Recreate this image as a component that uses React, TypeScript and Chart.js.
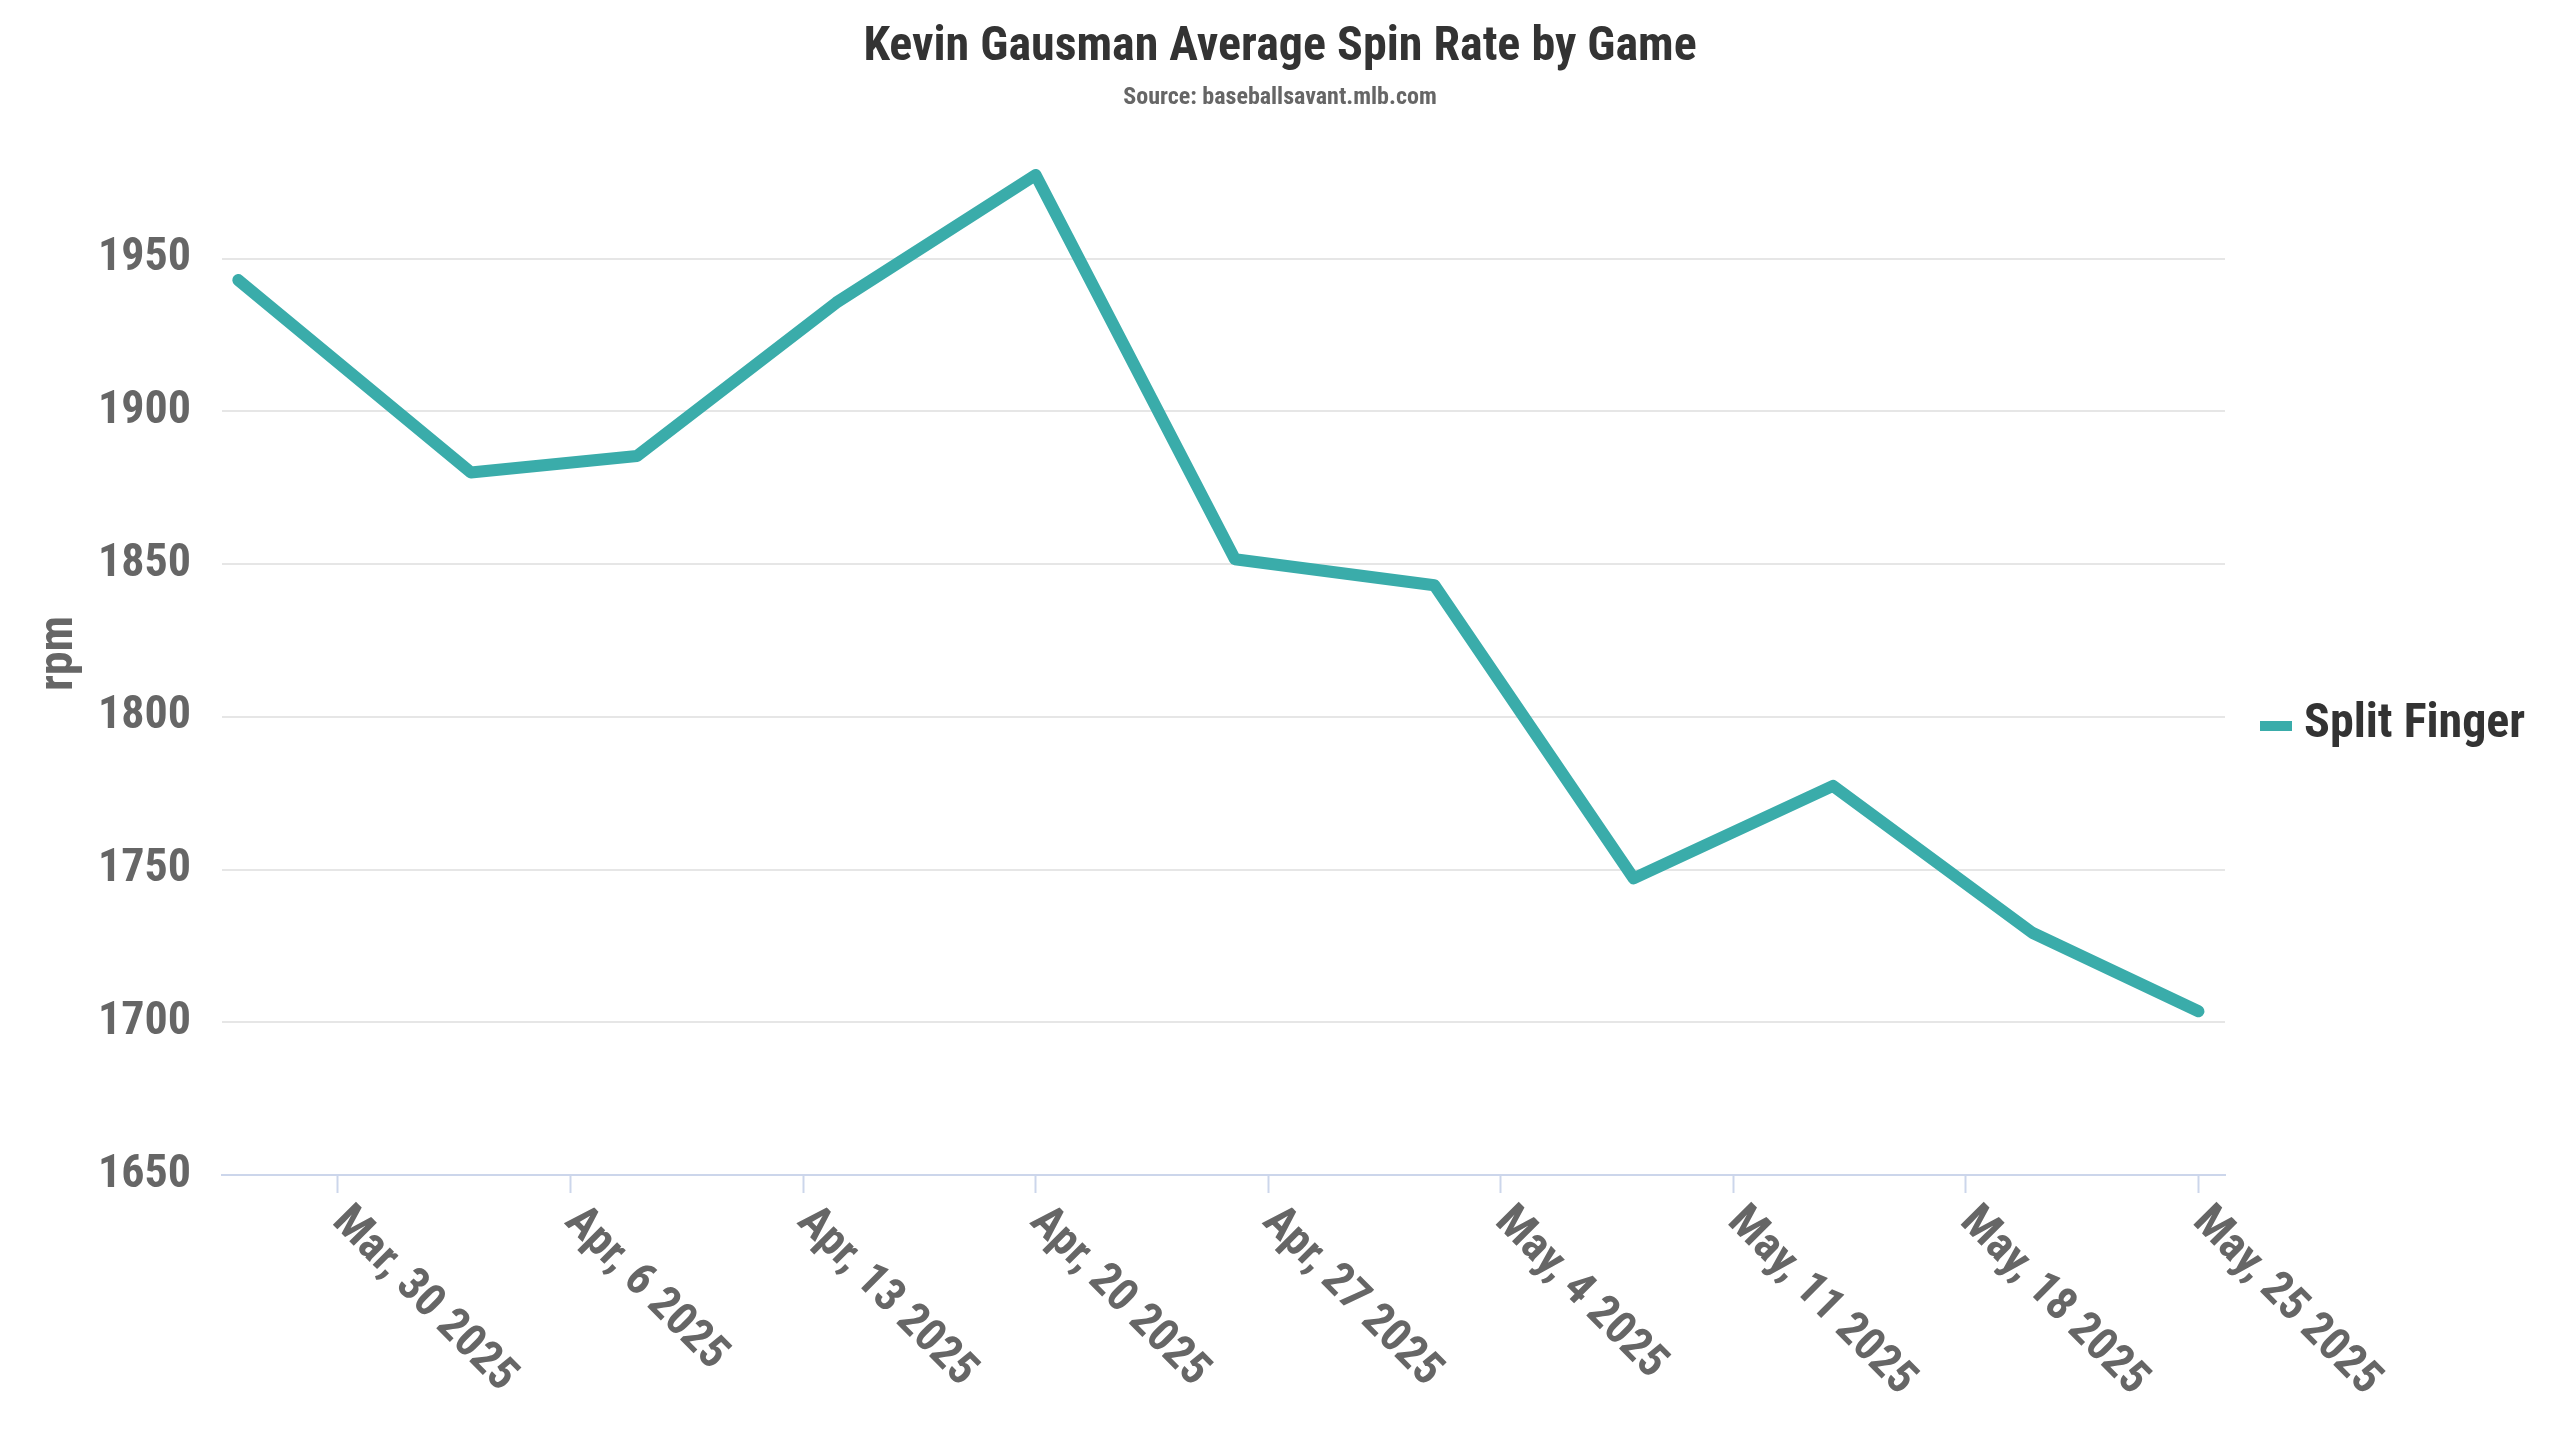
import React, { useEffect, useRef } from 'react';
import { Chart, registerables } from 'chart.js';

Chart.register(...registerables);

// ---- Data ----
const TITLE = 'Kevin Gausman Average Spin Rate by Game';
const SUBTITLE = 'Source: baseballsavant.mlb.com';
const SERIES_NAME = 'Split Finger';
const Y_TITLE = 'rpm';

const GAME_DATES = [
  '2025-03-27', '2025-04-03', '2025-04-08', '2025-04-14', '2025-04-20', '2025-04-26',
  '2025-05-02', '2025-05-08', '2025-05-14', '2025-05-20', '2025-05-25',
];
const SPLIT_FINGER_RPM = [1943, 1880, 1885.4, 1935.6, 1977.4, 1851.6, 1843.1, 1747.1, 1777.4, 1729.3, 1703.6];

const X_TICK_DATES = [
  '2025-03-30', '2025-04-06', '2025-04-13', '2025-04-20', '2025-04-27',
  '2025-05-04', '2025-05-11', '2025-05-18', '2025-05-25',
];
const Y_TICKS = [1650, 1700, 1750, 1800, 1850, 1900, 1950];
const MONTHS = ['Jan', 'Feb', 'Mar', 'Apr', 'May', 'Jun', 'Jul', 'Aug', 'Sep', 'Oct', 'Nov', 'Dec'];

// ---- Style ----
const FONT = "'Roboto Condensed', 'Liberation Sans Narrow', 'DejaVu Sans Condensed', Roboto, sans-serif";
const LINE_COLOR = '#3aacaa';
const DAY = 86400000;
const toMs = (d: string) => Date.parse(d + 'T00:00:00Z');
const fmtDate = (ms: number) => {
  const d = new Date(ms);
  return `${MONTHS[d.getUTCMonth()]}, ${d.getUTCDate()} ${d.getUTCFullYear()}`;
};

const xLabelsPlugin = {
  id: 'rotatedXLabels',
  afterDraw(chart: any) {
    const scale = chart.scales.x;
    const ctx = chart.ctx;
    ctx.save();
    ctx.font = `bold 46px ${FONT}`;
    ctx.fillStyle = '#666666';
    ctx.textAlign = 'left';
    ctx.textBaseline = 'alphabetic';
    scale.ticks.forEach((t: any) => {
      const px = scale.getPixelForValue(t.value);
      ctx.save();
      ctx.translate(px - 7, chart.chartArea.bottom + 48);
      ctx.rotate(Math.PI / 4);
      ctx.fillText(fmtDate(t.value), 0, 0);
      ctx.restore();
    });
    ctx.restore();
  },
};

const legendPlugin = {
  id: 'sideLegend',
  afterDraw(chart: any) {
    const { ctx, chartArea } = chart;
    const ds = chart.data.datasets[0];
    const x0 = chartArea.right + 35;
    const cy = chart.height / 2;
    ctx.save();
    ctx.fillStyle = ds.borderColor;
    ctx.fillRect(x0, cy + 1, 32, 10);
    ctx.font = `bold 48px ${FONT}`;
    ctx.fillStyle = '#333333';
    ctx.textAlign = 'left';
    ctx.textBaseline = 'alphabetic';
    ctx.fillText(ds.label, x0 + 44, cy + 17);
    ctx.restore();
  },
};

export default function App() {
  const canvasRef = useRef<HTMLCanvasElement | null>(null);

  useEffect(() => {
    if (!canvasRef.current) return;
    const points = GAME_DATES.map((d, i) => ({ x: toMs(d), y: SPLIT_FINGER_RPM[i] }));
    const xMin = toMs(GAME_DATES[0]) - 0.49 * DAY;
    const xMax = toMs(GAME_DATES[GAME_DATES.length - 1]) + 0.8 * DAY;

    const chart = new Chart(canvasRef.current, {
      type: 'line',
      data: {
        datasets: [
          {
            label: SERIES_NAME,
            data: points,
            borderColor: LINE_COLOR,
            backgroundColor: LINE_COLOR,
            borderWidth: 12,
            pointRadius: 0,
            pointHoverRadius: 0,
            borderCapStyle: 'round',
            borderJoinStyle: 'round',
            tension: 0,
            fill: false,
            clip: false as any,
          },
        ],
      },
      options: {
        animation: false,
        responsive: true,
        maintainAspectRatio: false,
        devicePixelRatio: 1,
        layout: { padding: 0 },
        plugins: {
          legend: { display: false },
          tooltip: { enabled: false },
          title: {
            display: true,
            text: TITLE,
            color: '#333333',
            font: { family: FONT, size: 48, weight: 'bold' },
            padding: { top: 19, bottom: 0 },
          },
          subtitle: {
            display: true,
            text: SUBTITLE,
            color: '#666666',
            font: { family: FONT, size: 24, weight: 'bold' },
            padding: { top: 6.5, bottom: 20 },
          },
        },
        scales: {
          x: {
            type: 'linear',
            min: xMin,
            max: xMax,
            afterBuildTicks: (s: any) => {
              s.ticks = X_TICK_DATES.map((d) => ({ value: toMs(d) }));
            },
            afterFit: (s: any) => {
              s.height = 265;
            },
            ticks: { display: false },
            grid: {
              drawOnChartArea: false,
              drawTicks: true,
              tickLength: 18,
              tickColor: '#ccd6eb',
              tickWidth: 2,
            },
            border: { display: true, color: '#ccd6eb', width: 2 },
          },
          y: {
            type: 'linear',
            min: 1650,
            max: 1991.5,
            afterBuildTicks: (s: any) => {
              s.ticks = Y_TICKS.map((v) => ({ value: v }));
            },
            afterFit: (s: any) => {
              s.width = 222;
            },
            ticks: {
              color: '#666666',
              font: { family: FONT, size: 46, weight: 'bold' },
              padding: 31,
              callback: (v: any) => String(v),
            },
            grid: {
              drawTicks: false,
              lineWidth: 2,
              color: (c: any) => (c.tick && c.tick.value === 1650 ? 'rgba(0,0,0,0)' : '#e6e6e6'),
            },
            border: { display: false },
            title: {
              display: true,
              text: Y_TITLE,
              color: '#666666',
              font: { family: FONT, size: 48, weight: 'bold' },
              padding: { top: 31, bottom: 0 },
            },
          },
          legendSpace: {
            type: 'linear',
            position: 'right',
            display: true,
            afterFit: (s: any) => {
              s.width = 335;
            },
            ticks: { display: false },
            grid: { display: false, drawTicks: false },
            border: { display: false },
          },
        },
      },
      plugins: [xLabelsPlugin, legendPlugin],
    } as any);

    return () => chart.destroy();
  }, []);

  return (
    <div style={{ position: 'absolute', left: 0, top: 0, width: 2560, height: 1440, background: '#ffffff' }}>
      <canvas ref={canvasRef} />
    </div>
  );
}
